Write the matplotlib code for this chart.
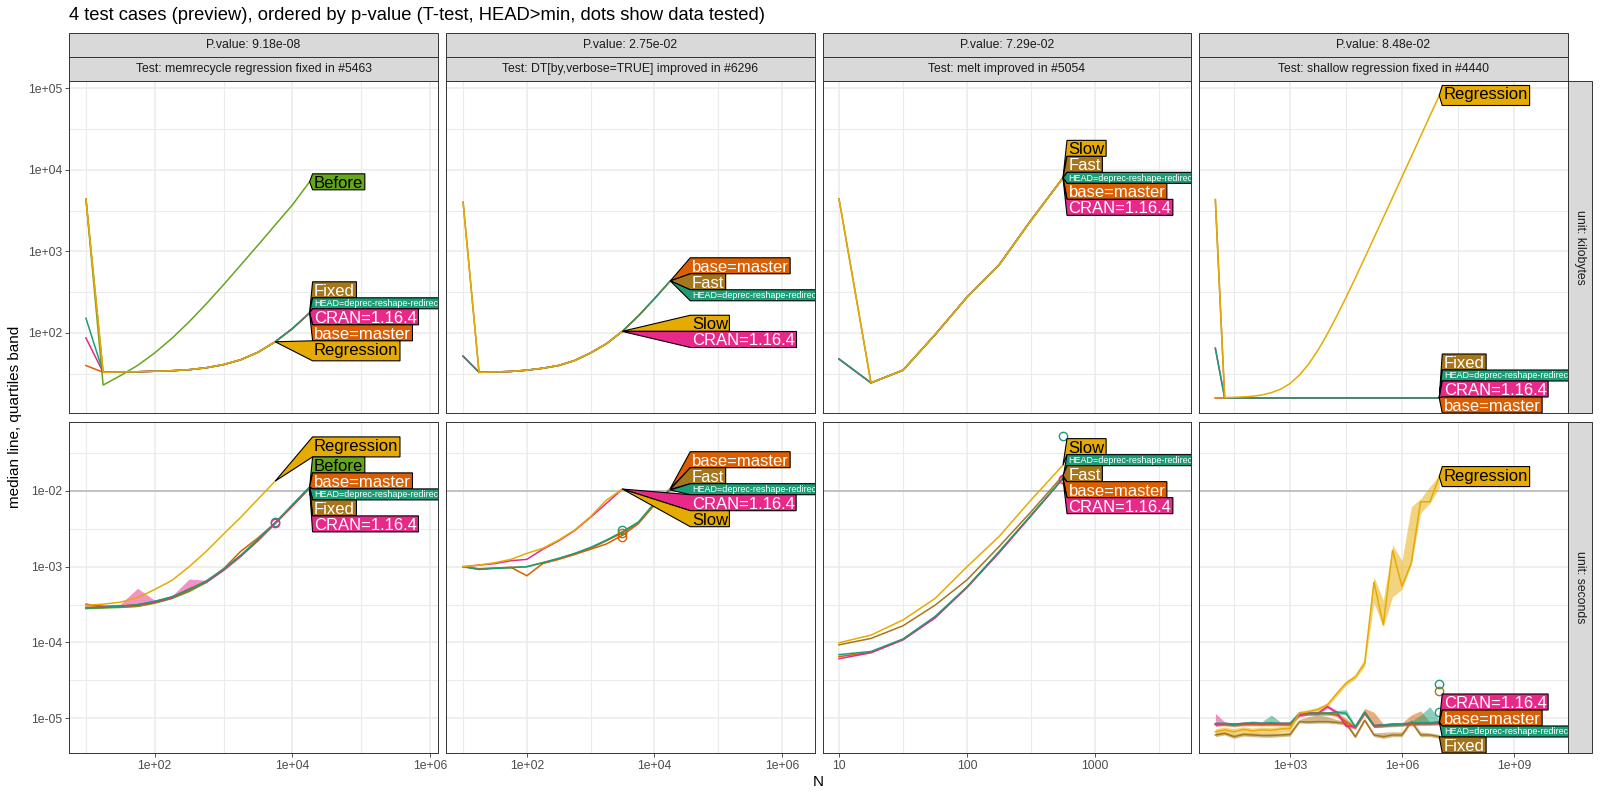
import matplotlib
matplotlib.use("Agg")
import matplotlib.pyplot as plt
from matplotlib.patches import Polygon, Rectangle
from matplotlib.transforms import IdentityTransform
from matplotlib.ticker import FixedLocator, NullFormatter

plt.rcParams['font.family'] = ['Liberation Sans', 'DejaVu Sans']

# ---------------- data ----------------
N_grid = [10, 17.78, 31.62, 56.23, 100, 177.8, 316.2, 562.3, 1000, 1778, 3162, 5623,
          10000, 17783, 31623, 56234, 100000, 177828, 316228, 562341, 1000000,
          1778279, 3162278, 5623413, 10000000]

HEAD = 'HEAD=deprec-reshape-redirect'
BASE = 'base=master'
CRAN = 'CRAN=1.16.4'

# test 1: memrecycle
t1_kb_before = [4400, 23, 30, 40, 57, 86, 137, 228, 390, 680, 1190, 2100, 3700, 7100]
t1_kb_fixed = [4400, 33, 33.3, 33.5, 34, 34.5, 35.5, 37.5, 41, 47, 58, 78, 113, 176]
t1_kb_base = [40, 33, 33.3, 33.5, 34, 34.5, 35.5, 37.5, 41, 47, 58, 78, 113, 176]
t1_kb_cran = [87, 33, 33.3, 33.5, 34, 34.5, 35.5, 37.5, 41, 47, 58, 78, 113, 176]
t1_kb_head = [152, 33, 33.3, 33.5, 34, 34.5, 35.5, 37.5, 41, 47, 58, 78, 113, 176]
t1_kb_regression = [4400, 33, 33.3, 33.5, 34, 34.5, 35.5, 37.5, 41, 47, 58, 78]

t1_sec_before = [2.8e-4, 2.85e-4, 2.9e-4, 3.0e-4, 3.3e-4, 3.8e-4, 4.7e-4, 6.2e-4, 9.0e-4, 1.38e-3, 2.2e-3, 3.7e-3, 6.3e-3, 1.1e-2]
t1_sec_fixed = [2.9e-4, 2.9e-4, 2.95e-4, 3.0e-4, 3.35e-4, 3.85e-4, 4.8e-4, 6.3e-4, 9.1e-4, 1.4e-3, 2.25e-3, 3.75e-3, 6.4e-3, 1.1e-2]
t1_sec_base = [2.9e-4, 2.95e-4, 3.05e-4, 3.1e-4, 3.45e-4, 4.0e-4, 5.0e-4, 6.4e-4, 9.4e-4, 1.6e-3, 2.4e-3, 3.8e-3, 6.5e-3, 1.12e-2]
t1_sec_cran = [3.2e-4, 3.0e-4, 3.0e-4, 3.15e-4, 3.4e-4, 3.9e-4, 5.1e-4, 6.3e-4, 9.0e-4, 1.38e-3, 2.25e-3, 3.8e-3, 6.4e-3, 1.1e-2]
t1_sec_cran_q25 = [3.1e-4, 2.95e-4, 2.95e-4, 3.1e-4, 3.35e-4, 3.85e-4, 5.0e-4, 6.2e-4, 8.9e-4, 1.36e-3, 2.2e-3, 3.7e-3, 6.3e-3, 1.09e-2]
t1_sec_cran_q75 = [3.3e-4, 3.1e-4, 3.2e-4, 5.2e-4, 3.6e-4, 4.1e-4, 6.9e-4, 6.6e-4, 9.3e-4, 1.42e-3, 2.3e-3, 3.9e-3, 6.6e-3, 1.13e-2]
t1_sec_head = [2.85e-4, 2.9e-4, 3.0e-4, 3.15e-4, 3.5e-4, 4.0e-4, 5.0e-4, 6.5e-4, 9.3e-4, 1.42e-3, 2.3e-3, 3.8e-3, 6.6e-3, 1.13e-2]
t1_sec_regression = [3.1e-4, 3.2e-4, 3.4e-4, 3.9e-4, 5.0e-4, 6.6e-4, 1.0e-3, 1.6e-3, 2.7e-3, 4.5e-3, 7.8e-3, 1.35e-2]
t1_dot_names = [HEAD, CRAN]
t1_dot_N = [5623, 5623]
t1_dot_sec = [3.85e-3, 3.8e-3]

# test 2: DT[by,verbose=TRUE]
t2_kb_fast = [4000, 33, 33.3, 33.8, 35, 37, 40, 46, 57, 74, 105, 162, 262, 434]
t2_kb_base = [52, 33, 33.3, 33.8, 35, 37, 40, 46, 57, 74, 105, 162, 262, 434]
t2_kb_head = [52, 33, 33.3, 33.8, 35, 37, 40, 46, 57, 74, 105, 162, 262, 434]
t2_kb_cran = [52, 33, 33.3, 33.8, 35, 37, 40, 46, 57, 74, 105]
t2_kb_slow = [4000, 33, 33.3, 33.8, 35, 37, 40, 46, 57, 74, 105]

t2_sec_fast = [1.0e-3, 9.3e-4, 9.6e-4, 9.8e-4, 1.0e-3, 1.13e-3, 1.28e-3, 1.48e-3, 1.75e-3, 2.2e-3, 2.8e-3, 3.8e-3, 6.5e-3, 1.05e-2]
t2_sec_base = [1.0e-3, 9.4e-4, 9.6e-4, 9.8e-4, 7.6e-4, 1.1e-3, 1.25e-3, 1.45e-3, 1.7e-3, 2.0e-3, 2.6e-3, 3.7e-3, 6.6e-3, 1.08e-2]
t2_sec_head = [1.0e-3, 9.2e-4, 9.5e-4, 9.7e-4, 1.0e-3, 1.13e-3, 1.29e-3, 1.5e-3, 1.8e-3, 2.25e-3, 2.9e-3, 3.9e-3, 6.9e-3, 1.03e-2]
t2_sec_cran = [1.0e-3, 1.05e-3, 1.1e-3, 1.2e-3, 1.25e-3, 1.7e-3, 2.2e-3, 3.0e-3, 4.5e-3, 6.9e-3, 1.06e-2]
t2_sec_slow = [1.0e-3, 1.05e-3, 1.13e-3, 1.25e-3, 1.5e-3, 1.75e-3, 2.25e-3, 3.05e-3, 4.6e-3, 7.6e-3, 1.06e-2]
t2_dot_names = [HEAD, BASE, BASE]
t2_dot_N = [3162, 3162, 3162]
t2_dot_sec = [3.05e-3, 2.75e-3, 2.5e-3]

# test 3: melt
t3_kb_fast = [4400, 24.5, 35, 95, 275, 680, 2400, 7940]
t3_kb_base = [48, 24.5, 35, 95, 275, 680, 2400, 7940]
t3_kb_cran = [48, 24.5, 35, 95, 275, 680, 2400, 7940]
t3_kb_head = [48, 24.5, 35, 95, 275, 680, 2400, 7940]
t3_kb_slow = [4400, 24.5, 35, 95, 275, 680, 2400, 7940]

t3_sec_fast = [9.3e-5, 1.13e-4, 1.66e-4, 3.1e-4, 6.7e-4, 1.84e-3, 5.3e-3, 1.6e-2]
t3_sec_base = [6.5e-5, 7.4e-5, 1.1e-4, 2.15e-4, 5.4e-4, 1.55e-3, 4.7e-3, 1.48e-2]
t3_sec_cran = [6.1e-5, 7.3e-5, 1.08e-4, 2.1e-4, 5.3e-4, 1.52e-3, 4.7e-3, 1.45e-2]
t3_sec_head = [6.9e-5, 7.6e-5, 1.11e-4, 2.2e-4, 5.4e-4, 1.58e-3, 4.8e-3, 1.47e-2]
t3_sec_slow = [9.9e-5, 1.25e-4, 1.98e-4, 3.8e-4, 1.0e-3, 2.5e-3, 7.6e-3, 2.2e-2]
t3_dot_names = [HEAD, CRAN]
t3_dot_N = [562.3, 562.3]
t3_dot_sec = [5.4e-2, 1.45e-2]

# test 4: shallow
t4_kb_fixed = [4300, 16, 16, 16, 16, 16, 16, 16, 16, 16, 16, 16, 16, 16, 16, 16, 16, 16, 16, 16, 16, 16, 16, 16, 16]
t4_kb_base = [16, 16, 16, 16, 16, 16, 16, 16, 16, 16, 16, 16, 16, 16, 16, 16, 16, 16, 16, 16, 16, 16, 16, 16, 16]
t4_kb_cran = [65, 16, 16, 16, 16, 16, 16, 16, 16, 16, 16, 16, 16, 16, 16, 16, 16, 16, 16, 16, 16, 16, 16, 16, 16]
t4_kb_head = [65, 16, 16, 16, 16, 16, 16, 16, 16, 16, 16, 16, 16, 16, 16, 16, 16, 16, 16, 16, 16, 16, 16, 16, 16]
t4_kb_regression = [4300, 16.1, 16.3, 16.5, 16.8, 17.4, 18.6, 20.5, 24, 30.4, 41.6, 61.5, 97, 160, 272, 470,
                    826, 1460, 2580, 4570, 8120, 14400, 25600, 45600, 81000]

t4_sec_fixed = [6.0e-6, 6.3e-6, 5.7e-6, 6.1e-6, 6.0e-6, 5.9e-6, 5.9e-6, 6.0e-6, 6.1e-6, 9.0e-6, 8.9e-6, 9.0e-6, 9.0e-6,
                8.8e-6, 8.5e-6, 5.7e-6, 9.4e-6, 6.0e-6, 5.7e-6, 6.0e-6, 6.0e-6, 9.0e-6, 6.0e-6, 6.0e-6, 5.7e-6]
t4_sec_fixed_q25 = [5.7e-6, 6.0e-6, 5.4e-6, 5.8e-6, 5.7e-6, 5.6e-6, 5.6e-6, 5.7e-6, 5.8e-6, 8.6e-6, 8.5e-6, 8.6e-6, 8.6e-6,
                    8.4e-6, 8.1e-6, 5.4e-6, 9.0e-6, 5.7e-6, 5.4e-6, 5.7e-6, 5.7e-6, 8.6e-6, 5.7e-6, 5.7e-6, 5.4e-6]
t4_sec_fixed_q75 = [6.4e-6, 6.7e-6, 6.1e-6, 6.5e-6, 6.4e-6, 6.3e-6, 6.3e-6, 6.4e-6, 6.5e-6, 9.6e-6, 1.05e-5, 1.1e-5, 1.05e-5,
                    9.6e-6, 9.0e-6, 6.1e-6, 1.0e-5, 6.4e-6, 6.5e-6, 6.6e-6, 6.6e-6, 9.6e-6, 6.6e-6, 6.4e-6, 6.1e-6]
t4_sec_base = [8.3e-6, 8.3e-6, 8.1e-6, 8.3e-6, 8.3e-6, 8.3e-6, 8.3e-6, 8.3e-6, 8.3e-6, 1.1e-5, 1.16e-5, 1.16e-5, 1.16e-5,
               1.1e-5, 9.0e-6, 7.5e-6, 1.16e-5, 7.9e-6, 8.0e-6, 8.1e-6, 8.3e-6, 8.3e-6, 8.5e-6, 8.5e-6, 8.5e-6]
t4_sec_base_q25 = [7.9e-6, 7.9e-6, 7.7e-6, 7.9e-6, 7.9e-6, 7.9e-6, 7.9e-6, 7.9e-6, 7.9e-6, 1.05e-5, 1.1e-5, 1.1e-5, 1.1e-5,
                   1.05e-5, 8.5e-6, 7.1e-6, 1.1e-5, 7.5e-6, 7.6e-6, 7.7e-6, 7.9e-6, 7.9e-6, 8.1e-6, 8.1e-6, 8.1e-6]
t4_sec_base_q75 = [8.7e-6, 8.7e-6, 8.5e-6, 8.7e-6, 8.7e-6, 8.7e-6, 8.7e-6, 8.7e-6, 8.7e-6, 1.16e-5, 1.22e-5, 1.22e-5, 1.22e-5,
                   1.2e-5, 1.0e-5, 7.9e-6, 1.35e-5, 1.2e-5, 8.4e-6, 8.5e-6, 8.7e-6, 1.1e-5, 1.25e-5, 8.9e-6, 8.9e-6]
t4_sec_cran = [8.2e-6, 8.5e-6, 8.3e-6, 8.5e-6, 8.5e-6, 8.5e-6, 8.5e-6, 8.5e-6, 8.5e-6, 1.1e-5, 1.16e-5, 1.16e-5, 1.42e-5,
               1.2e-5, 7.9e-6, 7.7e-6, 1.2e-5, 7.9e-6, 8.1e-6, 8.3e-6, 8.3e-6, 8.5e-6, 8.5e-6, 8.5e-6, 8.7e-6]
t4_sec_cran_q25 = [7.8e-6, 8.1e-6, 7.9e-6, 8.1e-6, 8.1e-6, 8.1e-6, 8.1e-6, 8.1e-6, 8.1e-6, 1.05e-5, 1.1e-5, 1.1e-5, 1.35e-5,
                   1.14e-5, 7.5e-6, 7.3e-6, 1.14e-5, 7.5e-6, 7.7e-6, 7.9e-6, 7.9e-6, 8.1e-6, 8.1e-6, 8.1e-6, 8.3e-6]
t4_sec_cran_q75 = [1.16e-5, 8.9e-6, 8.7e-6, 8.9e-6, 8.9e-6, 8.9e-6, 8.9e-6, 8.9e-6, 8.9e-6, 1.16e-5, 1.22e-5, 1.22e-5, 1.5e-5,
                   1.26e-5, 8.3e-6, 8.1e-6, 1.26e-5, 8.3e-6, 8.5e-6, 8.7e-6, 8.7e-6, 8.9e-6, 8.9e-6, 8.9e-6, 9.1e-6]
t4_sec_head = [8.5e-6, 8.5e-6, 8.3e-6, 8.5e-6, 8.7e-6, 8.5e-6, 8.7e-6, 8.5e-6, 8.5e-6, 1.16e-5, 1.16e-5, 1.16e-5, 1.16e-5,
               1.2e-5, 1.16e-5, 7.7e-6, 1.2e-5, 8.0e-6, 8.1e-6, 8.3e-6, 8.3e-6, 8.7e-6, 8.7e-6, 8.7e-6, 9.0e-6]
t4_sec_head_q25 = [8.1e-6, 8.1e-6, 7.9e-6, 8.1e-6, 8.3e-6, 8.1e-6, 8.3e-6, 8.1e-6, 8.1e-6, 1.1e-5, 1.1e-5, 1.1e-5, 1.1e-5,
                   1.14e-5, 1.1e-5, 7.3e-6, 1.14e-5, 7.6e-6, 7.7e-6, 7.9e-6, 7.9e-6, 8.3e-6, 8.3e-6, 8.3e-6, 8.6e-6]
t4_sec_head_q75 = [8.9e-6, 8.9e-6, 8.7e-6, 8.9e-6, 9.2e-6, 9.0e-6, 1.1e-5, 8.9e-6, 8.9e-6, 1.22e-5, 1.22e-5, 1.22e-5, 1.22e-5,
                   1.26e-5, 1.3e-5, 8.1e-6, 1.26e-5, 8.4e-6, 8.5e-6, 8.7e-6, 8.7e-6, 9.1e-6, 1.1e-5, 1.42e-5, 9.5e-6]
t4_sec_regression = [6.6e-6, 7.0e-6, 6.6e-6, 7.1e-6, 6.8e-6, 7.0e-6, 6.9e-6, 7.2e-6, 7.3e-6, 1.16e-5, 1.22e-5, 1.3e-5, 1.5e-5,
                     2.1e-5, 2.9e-5, 3.5e-5, 5.3e-5, 6.3e-4, 1.7e-4, 1.66e-3, 5.5e-4, 1.12e-3, 7.2e-3, 7.2e-3, 1.55e-2]
t4_sec_regression_q25 = [6.0e-6, 6.3e-6, 6.1e-6, 6.4e-6, 6.2e-6, 6.3e-6, 6.2e-6, 6.5e-6, 6.6e-6, 1.1e-5, 1.15e-5, 1.22e-5, 1.4e-5,
                         1.95e-5, 2.7e-5, 3.3e-5, 4.8e-5, 3.3e-4, 1.6e-4, 4.0e-4, 5.0e-4, 1.05e-3, 5.1e-3, 6.9e-3, 1.1e-2]
t4_sec_regression_q75 = [7.3e-6, 7.6e-6, 7.3e-6, 7.7e-6, 7.4e-6, 7.6e-6, 7.5e-6, 7.8e-6, 8.0e-6, 1.25e-5, 1.3e-5, 1.4e-5, 1.6e-5,
                         2.25e-5, 3.1e-5, 3.8e-5, 6.1e-5, 7.4e-4, 3.6e-4, 1.95e-3, 1.2e-3, 6.2e-3, 7.9e-3, 1.15e-2, 1.6e-2]
t4_dot_names = [HEAD, 'Fixed', HEAD]
t4_dot_N = [10000000, 10000000, 10000000]
t4_dot_sec = [2.8e-5, 2.3e-5, 1.22e-5]

pvalues = ['P.value: 9.18e-08', 'P.value: 2.75e-02', 'P.value: 7.29e-02', 'P.value: 8.48e-02']
test_names = ['Test: memrecycle regression fixed in #5463', 'Test: DT[by,verbose=TRUE] improved in #6296',
              'Test: melt improved in #5054', 'Test: shallow regression fixed in #4440']
unit_names = ['unit: kilobytes', 'unit: seconds']

COLORS = {HEAD: '#1B9E77', BASE: '#D95F02', CRAN: '#E7298A', 'Before': '#66A61E',
          'Regression': '#E6AB02', 'Slow': '#E6AB02', 'Fixed': '#A6761D', 'Fast': '#A6761D'}
DARK_TEXT = {'Before', 'Regression', 'Slow'}

panels = [
    dict(kb=[('Before', t1_kb_before), ('Fixed', t1_kb_fixed), (BASE, t1_kb_base), (CRAN, t1_kb_cran),
             (HEAD, t1_kb_head), ('Regression', t1_kb_regression)],
         sec=[('Before', t1_sec_before), ('Fixed', t1_sec_fixed), (BASE, t1_sec_base), (CRAN, t1_sec_cran),
              (HEAD, t1_sec_head), ('Regression', t1_sec_regression)],
         sec_bands=[(CRAN, t1_sec_cran_q25, t1_sec_cran_q75)],
         dots=(t1_dot_names, t1_dot_N, t1_dot_sec),
         order_kb=['Before', 'Fixed', HEAD, CRAN, BASE, 'Regression'],
         order_sec=['Regression', 'Before', BASE, HEAD, 'Fixed', CRAN],
         xlim=(10**0.754, 10**6.116), xt=[1e2, 1e4, 1e6], xtl=['1e+02', '1e+04', '1e+06'],
         xminor=[1e1, 1e3, 1e5], gap=3),
    dict(kb=[('Fast', t2_kb_fast), (BASE, t2_kb_base), (CRAN, t2_kb_cran), (HEAD, t2_kb_head), ('Slow', t2_kb_slow)],
         sec=[('Fast', t2_sec_fast), (BASE, t2_sec_base), (CRAN, t2_sec_cran), (HEAD, t2_sec_head), ('Slow', t2_sec_slow)],
         sec_bands=[],
         dots=(t2_dot_names, t2_dot_N, t2_dot_sec),
         order_kb=[BASE, 'Fast', HEAD, 'Slow', CRAN],
         order_sec=[BASE, 'Fast', HEAD, CRAN, 'Slow'],
         xlim=(10**0.732, 10**6.52), xt=[1e2, 1e4, 1e6], xtl=['1e+02', '1e+04', '1e+06'],
         xminor=[1e1, 1e3, 1e5], gap=20),
    dict(kb=[('Fast', t3_kb_fast), (BASE, t3_kb_base), (CRAN, t3_kb_cran), (HEAD, t3_kb_head), ('Slow', t3_kb_slow)],
         sec=[('Fast', t3_sec_fast), (BASE, t3_sec_base), (CRAN, t3_sec_cran), (HEAD, t3_sec_head), ('Slow', t3_sec_slow)],
         sec_bands=[],
         dots=(t3_dot_names, t3_dot_N, t3_dot_sec),
         order_kb=['Slow', 'Fast', HEAD, BASE, CRAN],
         order_sec=['Slow', HEAD, 'Fast', BASE, CRAN],
         xlim=(10**0.875, 10**3.75), xt=[10, 100, 1000], xtl=['10', '100', '1000'],
         xminor=[10**1.5, 10**2.5, 10**3.5], gap=4),
    dict(kb=[('Fixed', t4_kb_fixed), (BASE, t4_kb_base), (CRAN, t4_kb_cran), (HEAD, t4_kb_head),
             ('Regression', t4_kb_regression)],
         sec=[('Fixed', t4_sec_fixed), (BASE, t4_sec_base), (CRAN, t4_sec_cran), (HEAD, t4_sec_head),
              ('Regression', t4_sec_regression)],
         sec_bands=[('Fixed', t4_sec_fixed_q25, t4_sec_fixed_q75), (BASE, t4_sec_base_q25, t4_sec_base_q75),
                    (CRAN, t4_sec_cran_q25, t4_sec_cran_q75), (HEAD, t4_sec_head_q25, t4_sec_head_q75),
                    ('Regression', t4_sec_regression_q25, t4_sec_regression_q75)],
         dots=(t4_dot_names, t4_dot_N, t4_dot_sec),
         order_kb=['Regression', 'Fixed', HEAD, CRAN, BASE],
         order_sec=['Regression', CRAN, BASE, HEAD, 'Fixed'],
         xlim=(10**0.562, 10**10.45), xt=[1e3, 1e6, 1e9], xtl=['1e+03', '1e+06', '1e+09'],
         xminor=[10**1.5, 10**4.5, 10**7.5], gap=3),
]

# ---------------- layout ----------------
W, H = 1600, 800
fig = plt.figure(figsize=(16, 8), dpi=100)
COLS = [(69, 438), (446, 815), (823, 1191), (1199, 1568)]
ROWS = [(81, 413), (422, 753)]
YLIMS = [(10**1.02, 10**5.086), (10**-5.46, 10**-1.089)]
YT = [[1e2, 1e3, 1e4, 1e5], [1e-5, 1e-4, 1e-3, 1e-2]]
YTL = [['1e+02', '1e+03', '1e+04', '1e+05'], ['1e-05', '1e-04', '1e-03', '1e-02']]
YMIN = [[10**1.5, 10**2.5, 10**3.5, 10**4.5], [10**-4.5, 10**-3.5, 10**-2.5, 10**-1.5]]
BORDER = '#333333'


def add_axes_px(x0, y0, x1, y1):
    return fig.add_axes([x0 / W, 1 - y1 / H, (x1 - x0) / W, (y1 - y0) / H])


def strip(x0, y0, x1, y1, text, rot=0):
    fig.add_artist(Rectangle((x0 / W, 1 - y1 / H), (x1 - x0) / W, (y1 - y0) / H,
                             transform=fig.transFigure, fc='#D9D9D9', ec=BORDER, lw=0.7))
    fig.text((x0 + x1) / 2 / W, 1 - (y0 + y1) / 2 / H, text, ha='center', va='center',
             fontsize=8.8, color='#1A1A1A', rotation=rot)


axes = {}
for c, (x0, x1) in enumerate(COLS):
    P = panels[c]
    strip(x0, 33, x1, 57, pvalues[c])
    strip(x0, 57, x1, 81, test_names[c])
    for r, (y0, y1) in enumerate(ROWS):
        ax = add_axes_px(x0, y0, x1, y1)
        axes[(r, c)] = ax
        ax.set_xscale('log')
        ax.set_yscale('log')
        ax.set_facecolor('white')
        ax.xaxis.set_major_locator(FixedLocator(P['xt']))
        ax.xaxis.set_minor_locator(FixedLocator(P['xminor']))
        ax.xaxis.set_minor_formatter(NullFormatter())
        ax.yaxis.set_major_locator(FixedLocator(YT[r]))
        ax.yaxis.set_minor_locator(FixedLocator(YMIN[r]))
        ax.yaxis.set_minor_formatter(NullFormatter())
        ax.set_xticks(P['xt'])
        ax.set_xticklabels(P['xtl'])
        ax.set_yticks(YT[r])
        ax.set_yticklabels(YTL[r])
        ax.grid(True, which='major', color='#EBEBEB', lw=1.1)
        ax.grid(True, which='minor', color='#EBEBEB', lw=0.8)
        ax.set_axisbelow(True)
        ax.tick_params(which='minor', length=0)
        ax.tick_params(which='major', length=2.75, width=0.6, color=BORDER, labelsize=8.8,
                       labelcolor='#4D4D4D', pad=2.2)
        ax.tick_params(axis='x', bottom=(r == 1), labelbottom=(r == 1))
        ax.tick_params(axis='y', left=(c == 0), labelleft=(c == 0))
        for s in ax.spines.values():
            s.set_color(BORDER)
            s.set_linewidth(0.7)
        series = P['kb'] if r == 0 else P['sec']
        if r == 1:
            ax.axhline(0.01, color='#BEBEBE', lw=1.3, zorder=1)
            for name, lo, hi in P['sec_bands']:
                ax.fill_between(N_grid[:len(lo)], lo, hi, color=COLORS[name], alpha=0.5, lw=0, zorder=2)
        for name, vals in series:
            ax.plot(N_grid[:len(vals)], vals, color=COLORS[name], lw=1.1, zorder=3,
                    solid_joinstyle='miter')
        if r == 1:
            dn, dN, dv = P['dots']
            for name, xx, yy in zip(dn, dN, dv):
                ax.plot([xx], [yy], 'o', mfc='none', mec=COLORS[name], ms=6, mew=1.0, zorder=4)
        ax.set_xlim(*P['xlim'])
        ax.set_ylim(*YLIMS[r])

strip(1568, ROWS[0][0], 1592, ROWS[0][1], unit_names[0], rot=270)
strip(1568, ROWS[1][0], 1592, ROWS[1][1], unit_names[1], rot=270)

fig.text(69 / W, 1 - 16 / H,
         '4 test cases (preview), ordered by p-value (T-test, HEAD>min, dots show data tested)',
         ha='left', va='center', fontsize=13.2, color='black')
fig.text(818 / W, 1 - 782 / H, 'N', ha='center', va='center', fontsize=11)
fig.text(15 / W, 1 - 417 / H, 'median line, quartiles band', ha='center', va='center',
         fontsize=11, rotation=90)

# ---------------- direct labels ----------------
renderer = fig.canvas.get_renderer()


def pava_dec(u):
    blocks = []
    for v in u:
        blocks.append([v, 1])
        while len(blocks) > 1 and blocks[-2][0] / blocks[-2][1] < blocks[-1][0] / blocks[-1][1]:
            s, n = blocks.pop()
            blocks[-1][0] += s
            blocks[-1][1] += n
    out = []
    for s, n in blocks:
        out += [s / n] * n
    return out


def draw_labels(ax, items, gap):
    bb = ax.get_window_extent(renderer)
    pts = [ax.transData.transform((x, y)) for _, x, y in items]
    hs, desc = [], []
    for name, _, _ in items:
        if name == HEAD:
            hs.append(11.0)
            desc.append(0.0)
        else:
            d = 4.0 if any(ch in name for ch in 'gjpqy') else 0.0
            hs.append(16.0 + d)
            desc.append(d)
    n = len(items)
    sp = [(hs[i] + hs[i + 1]) / 2 for i in range(n - 1)]
    off = [0.0]
    for s in sp:
        off.append(off[-1] + s)
    u = [pts[i][1] + off[i] for i in range(n)]
    d = pava_dec(u)
    cen = [d[i] - off[i] for i in range(n)]
    for i in range(n - 1, -1, -1):
        lower = bb.y0 + hs[i] / 2 if i == n - 1 else cen[i + 1] + sp[i]
        if cen[i] < lower:
            cen[i] = lower
    for i in range(n):
        upper = bb.y1 - hs[i] / 2 if i == 0 else cen[i - 1] - sp[i - 1]
        if cen[i] > upper:
            cen[i] = upper
    xl = max(p[0] for p in pts) + gap
    for i, (name, _, _) in enumerate(items):
        bot = cen[i] - hs[i] / 2
        top = cen[i] + hs[i] / 2
        small = name == HEAD
        fs = 6.5 if small else 12
        tc = 'black' if name in DARK_TEXT else 'white'
        base = bot + (2.5 if small else 2.0 + desc[i])
        t = ax.text(xl + 1.5, base, name, transform=IdentityTransform(), fontsize=fs,
                    color=tc, ha='left', va='baseline', clip_on=True, zorder=12 + 2 * i)
        w = t.get_window_extent(renderer).width + 3.0
        tx, ty = pts[i]
        poly = Polygon([(tx, ty), (xl, top), (xl + w, top), (xl + w, bot), (xl, bot)], closed=True,
                       transform=IdentityTransform(), fc=COLORS[name], ec='black', lw=0.8,
                       zorder=11 + 2 * i)
        ax.add_patch(poly)


for c in range(4):
    P = panels[c]
    for r in range(2):
        ax = axes[(r, c)]
        series = dict(P['kb'] if r == 0 else P['sec'])
        order = P['order_kb'] if r == 0 else P['order_sec']
        items = [(nm, N_grid[len(series[nm]) - 1], series[nm][-1]) for nm in order]
        draw_labels(ax, items, P['gap'])
        ax.set_xlim(*P['xlim'])
        ax.set_ylim(*YLIMS[r])

fig.savefig('out.png', dpi=100)
